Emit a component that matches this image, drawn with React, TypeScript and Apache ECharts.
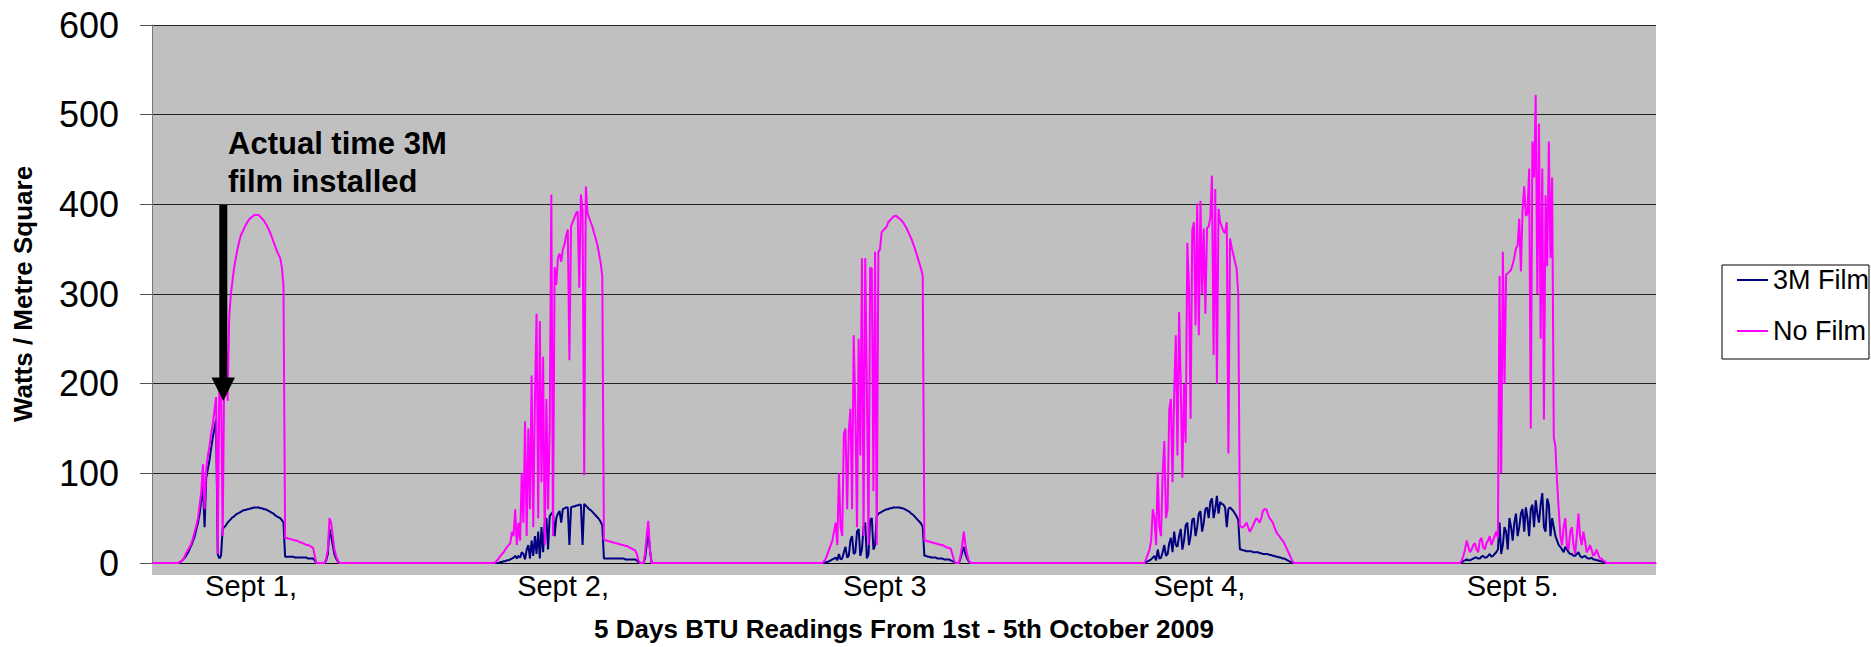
import React, { useEffect, useRef } from "react";
import * as echarts from "echarts";

// ---- data: hours from the left edge of the plot; readings every dayStepHours ----
const seriesNames = ["3M Film", "No Film"];
const dayLabels = ["Sept 1,", "Sept 2,", "Sept 3", "Sept 4,", "Sept 5."];
const labelHours = [7.53, 31.27, 55.74, 79.67, 103.5];
const xMaxHours = 114.4;
const dayStepHours = 0.125;
const dayStartHours = [2.0, 26.0, 51.0, 75.5, 99.5];

const day1NoFilm = [
  0, 1, 2, 4, 8, 12, 15, 18, 22, 28, 35, 42,
  50, 65, 80, 110, 60, 105, 120, 130, 145, 155, 170, 185,
  10, 200, 205, 30, 220, 250, 181, 275, 300, 315, 330, 340,
  350, 358, 365, 369, 373, 377, 380, 383, 385, 386, 388, 388,
  388, 388, 386, 384, 382, 379, 376, 372, 368, 363, 358, 353,
  348, 344, 340, 330, 310, 28, 28, 27, 27, 26, 26, 25,
  25, 24, 23, 23, 22, 21, 20, 20, 19, 18, 17, 8,
  0, 0, 0, 0, 0, 0, 5, 15, 50, 45, 30, 15,
  8, 3, 0,
];
const day1Film = [
  0, 1, 2, 4, 6, 9, 12, 16, 20, 25, 30, 38,
  45, 55, 70, 85, 40, 95, 105, 115, 128, 140, 150, 160,
  10, 5, 8, 38, 40, 42, 45, 47, 49, 51, 52, 54,
  55, 56, 57, 58, 59, 59, 60, 60, 61, 61, 62, 62,
  62, 62, 61, 61, 60, 60, 59, 58, 57, 56, 55, 53,
  52, 51, 50, 48, 45, 7, 7, 7, 7, 7, 7, 6,
  6, 6, 6, 6, 6, 6, 6, 5, 5, 5, 5, 3,
  0, 0, 0, 0, 0, 0, 3, 10, 38, 30, 20, 10,
  5, 2, 0,
];

const day2NoFilm = [
  0, 1, 3, 5, 8, 10, 12, 15, 18, 20, 22, 35,
  30, 60, 20, 45, 25, 100, 45, 158, 30, 150, 60, 209,
  40, 180, 278, 50, 270, 90, 230, 20, 183, 60, 150, 411,
  30, 330, 310, 340, 345, 336, 350, 355, 365, 372, 226, 376,
  380, 385, 390, 392, 307, 411, 393, 98, 420, 390, 385, 380,
  375, 368, 362, 355, 345, 335, 320, 26, 25, 25, 24, 24,
  23, 23, 22, 22, 21, 21, 20, 20, 19, 19, 18, 17,
  16, 15, 14, 10, 3, 0, 0, 0, 10, 30, 47, 15,
  0,
];
const day2Film = [
  0, 0, 0, 0, 1, 1, 2, 2, 3, 3, 4, 5,
  6, 8, 5, 8, 6, 12, 10, 4, 15, 20, 5, 25,
  8, 30, 10, 35, 5, 40, 12, 45, 50, 15, 52, 55,
  57, 30, 50, 55, 58, 45, 60, 61, 62, 62, 20, 62,
  63, 63, 64, 64, 65, 65, 20, 66, 64, 62, 60, 59,
  57, 55, 53, 51, 49, 46, 42, 5, 5, 5, 5, 5,
  5, 5, 5, 5, 5, 5, 5, 5, 4, 4, 4, 4,
  4, 4, 4, 3, 1, 0, 0, 0, 5, 20, 35, 15,
  0,
];

const day3NoFilm = [
  0, 2, 5, 10, 15, 20, 25, 35, 45, 20, 100, 40,
  30, 144, 150, 60, 147, 172, 60, 254, 170, 40, 250, 120,
  340, 30, 340, 200, 20, 329, 329, 80, 347, 20, 347, 350,
  369, 371, 373, 375, 380, 382, 384, 386, 387, 387, 385, 384,
  382, 380, 377, 374, 370, 366, 362, 357, 352, 346, 340, 334,
  328, 320, 25, 25, 24, 24, 23, 23, 22, 22, 21, 21,
  20, 20, 19, 18, 17, 17, 16, 10, 3, 0, 0, 0,
  8, 20, 35, 20, 10, 3, 0, 0, 0,
];
const day3Film = [
  0, 0, 1, 1, 2, 3, 4, 5, 6, 3, 10, 4,
  5, 12, 18, 6, 8, 25, 30, 10, 12, 35, 38, 8,
  15, 40, 45, 5, 10, 48, 50, 15, 20, 52, 55, 56,
  57, 58, 59, 60, 60, 61, 61, 62, 62, 62, 62, 62,
  61, 61, 60, 59, 58, 57, 55, 54, 52, 50, 48, 46,
  44, 40, 8, 8, 7, 7, 6, 6, 6, 6, 5, 5,
  5, 5, 4, 4, 4, 4, 3, 2, 1, 0, 0, 0,
  5, 12, 18, 10, 5, 2, 0, 0, 0,
];

const day4NoFilm = [
  0, 5, 10, 15, 25, 60, 50, 20, 101, 40, 30, 100,
  136, 50, 60, 171, 183, 90, 189, 254, 120, 280, 200, 95,
  200, 134, 357, 307, 161, 371, 380, 265, 401, 254, 404, 300,
  373, 278, 374, 375, 385, 432, 232, 417, 200, 395, 380, 375,
  370, 368, 380, 122, 362, 352, 344, 336, 328, 300, 42, 40,
  40, 42, 45, 40, 35, 38, 42, 46, 50, 48, 45, 50,
  58, 60, 60, 55, 50, 48, 45, 40, 35, 32, 30, 27,
  25, 22, 18, 14, 10, 6, 2, 0, 0,
];
const day4Film = [
  0, 1, 2, 3, 4, 6, 8, 3, 15, 5, 6, 12,
  20, 8, 10, 22, 28, 12, 35, 20, 18, 30, 38, 15,
  25, 42, 45, 20, 30, 48, 50, 30, 40, 55, 58, 35,
  45, 60, 62, 50, 68, 72, 50, 60, 75, 55, 68, 66,
  65, 62, 40, 60, 62, 60, 58, 55, 52, 48, 15, 15,
  14, 14, 13, 13, 13, 13, 12, 12, 12, 12, 11, 11,
  10, 10, 10, 10, 9, 9, 8, 8, 7, 7, 6, 6,
  5, 5, 4, 3, 2, 1, 0, 0, 0,
];

const day5NoFilm = [
  0, 3, 8, 15, 25, 18, 12, 15, 20, 22, 15, 12,
  25, 28, 18, 15, 22, 25, 30, 20, 25, 30, 35, 28,
  320, 100, 347, 200, 322, 323, 325, 327, 333, 341, 351, 354,
  384, 325, 393, 420, 387, 390, 440, 150, 470, 430, 522, 300,
  490, 250, 440, 160, 410, 331, 470, 340, 430, 140, 130, 90,
  60, 30, 20, 40, 50, 20, 15, 35, 40, 20, 10, 30,
  55, 30, 20, 35, 25, 12, 15, 20, 15, 8, 10, 15,
  10, 5, 5, 3, 2, 0, 0, 0, 0,
];
const day5Film = [
  0, 1, 2, 3, 4, 3, 3, 4, 5, 6, 6, 5,
  5, 7, 8, 6, 6, 8, 10, 7, 8, 10, 12, 15,
  45, 10, 20, 40, 35, 15, 50, 40, 25, 45, 55, 30,
  40, 55, 60, 35, 62, 50, 30, 60, 65, 40, 70, 55,
  45, 65, 78, 40, 35, 72, 65, 30, 50, 40, 30, 25,
  20, 18, 15, 12, 18, 15, 12, 10, 10, 8, 8, 10,
  12, 8, 6, 7, 8, 6, 5, 5, 6, 4, 4, 3,
  3, 2, 2, 1, 0, 0, 0, 0, 0,
];

const filmDays = [day1Film, day2Film, day3Film, day4Film, day5Film];
const noFilmDays = [day1NoFilm, day2NoFilm, day3NoFilm, day4NoFilm, day5NoFilm];

const FONT = "'Liberation Sans', Arial, Helvetica, sans-serif";

function buildSeries(days: number[][]): number[][] {
  const out: number[][] = [[0, 0]];
  days.forEach((vals, d) => {
    vals.forEach((v, i) => out.push([dayStartHours[d] + i * dayStepHours, v]));
  });
  out.push([xMaxHours, 0]);
  return out;
}

export default function App() {
  const ref = useRef<HTMLDivElement>(null);
  useEffect(() => {
    if (!ref.current) return;
    const chart = echarts.init(ref.current, undefined, { renderer: "svg" });
    const option: any = {
      animation: false,
      backgroundColor: "#ffffff",
      grid: { left: 152, top: 25, width: 1504, height: 550 },
      xAxis: {
        type: "value",
        min: 0,
        max: xMaxHours,
        name: "5 Days BTU Readings From 1st - 5th October 2009",
        nameLocation: "middle",
        nameGap: 53,
        nameTextStyle: { fontFamily: FONT, fontSize: 26, fontWeight: "bold", color: "#000" },
        axisLine: { show: true, lineStyle: { color: "#000", width: 1 } },
        axisTick: { show: false },
        splitLine: { show: false },
        axisLabel: {
          customValues: labelHours,
          formatter: (v: number) => {
            const idx = labelHours.findIndex((h) => Math.abs(h - v) < 0.01);
            return idx >= 0 ? dayLabels[idx] : "";
          },
          fontFamily: FONT,
          fontSize: 29,
          color: "#000",
          margin: 8,
        },
      },
      yAxis: {
        type: "value",
        min: 0,
        max: 600,
        interval: 100,
        name: "Watts / Metre Square",
        nameLocation: "middle",
        nameGap: 116,
        nameTextStyle: { fontFamily: FONT, fontSize: 26, fontWeight: "bold", color: "#000" },
        axisLine: { show: true, lineStyle: { color: "#777", width: 1 } },
        axisTick: { show: true, inside: false, length: 12, lineStyle: { color: "#555" } },
        splitLine: { show: true, lineStyle: { color: "#222", width: 1 } },
        axisLabel: { fontFamily: FONT, fontSize: 36, color: "#000", margin: 33 },
      },
      legend: {
        orient: "vertical",
        left: 1722,
        top: 265,
        backgroundColor: "#ffffff",
        borderColor: "#000",
        borderWidth: 1,
        padding: [0, 0, 13, 15],
        itemWidth: 31,
        itemHeight: 2,
        itemGap: 21,
        icon: "rect",
        textStyle: { fontFamily: FONT, fontSize: 27, color: "#000", lineHeight: 30 },
        data: seriesNames,
      },
      series: [
        {
          name: seriesNames[0],
          type: "line",
          data: buildSeries(filmDays),
          showSymbol: false,
          symbol: "none",
          lineStyle: { color: "#000080", width: 2 },
          itemStyle: { color: "#000080" },
        },
        {
          name: seriesNames[1],
          type: "line",
          data: buildSeries(noFilmDays),
          showSymbol: false,
          symbol: "none",
          lineStyle: { color: "#ff00ff", width: 2 },
          itemStyle: { color: "#ff00ff" },
        },
      ],
      graphic: [
        {
          type: "rect",
          z: -1,
          silent: true,
          shape: { x: 152, y: 25, width: 1504, height: 550 },
          style: { fill: "#c0c0c0" },
        },
        {
          type: "text",
          left: 228,
          top: 124,
          z: 100,
          style: {
            text: "Actual time 3M\nfilm installed",
            font: `bold 31px ${FONT}`,
            lineHeight: 38,
            fill: "#000",
          },
        },
        {
          type: "line",
          z: 100,
          shape: { x1: 223.3, y1: 205, x2: 223.3, y2: 380 },
          style: { stroke: "#000", lineWidth: 8 },
        },
        {
          type: "polygon",
          z: 100,
          shape: { points: [[211.5, 377.5], [235, 377.5], [223.3, 401]] },
          style: { fill: "#000" },
        },
      ],
    };
    chart.setOption(option);
    return () => chart.dispose();
  }, []);
  return (
    <div
      ref={ref}
      style={{ position: "fixed", left: 0, top: 0, width: 1871, height: 647 }}
    />
  );
}
